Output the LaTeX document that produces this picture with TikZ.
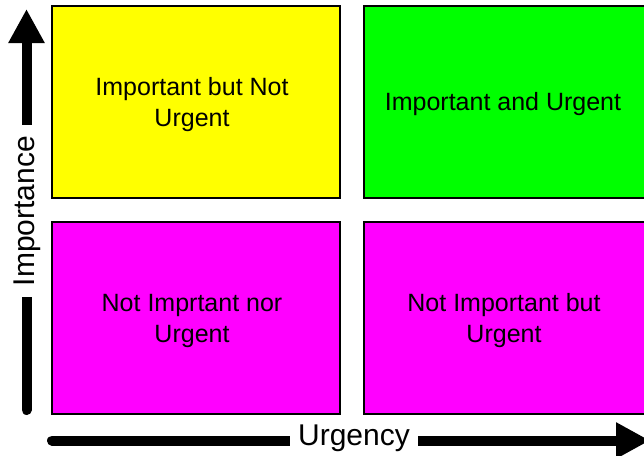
\documentclass[tikz,border=0pt]{standalone}
\usepackage{fontspec}
\setmainfont{Liberation Sans}
\usetikzlibrary{arrows.meta}
\definecolor{quadyellow}{RGB}{255,255,0}
\definecolor{quadgreen}{RGB}{0,255,0}
\definecolor{quadmagenta}{RGB}{255,0,255}

\begin{document}
\begin{tikzpicture}[x=1pt,y=-1pt,
  quad/.style={draw,line width=2pt,minimum width=288pt,minimum height=192pt,inner sep=0pt},
  qtext/.style={align=center,inner sep=0pt,font=\fontsize{25}{31}\selectfont},
  axis/.style={line width=10pt,line cap=round,-{Triangle[length=34pt,width=34pt]}},
  axislabel/.style={fill=white,inner xsep=8pt,inner ysep=0pt,font=\fontsize{30}{36}\selectfont}]
\useasboundingbox (0,0) rectangle (644,455);
\clip (0,0) rectangle (644,455);
\node [quad,fill=quadyellow] (ib) at (196,102) {};
\node [quad,fill=quadgreen] (iu) at (508,102) {};
\node [quad,fill=quadmagenta] (nn) at (196,318) {};
\node [quad,fill=quadmagenta] (nu) at (508,318) {};
\node [qtext] (ibt) at (192,105) {Important but Not\\Urgent};
\node [qtext] (iut) at (503,104) {Important and Urgent};
\node [qtext] (nnt) at (192,321) {Not Imprtant nor\\Urgent};
\node [qtext] (nut) at (504,321) {Not Important but\\Urgent};
\coordinate (vbot) at (26.5,410);
\coordinate (vtop) at (26.5,9);
\coordinate (hleft) at (52,440.5);
\coordinate (hright) at (650,440.5);
\draw [axis] (vbot) -- (vtop);
\draw [axis] (hleft) -- (hright);
\node [axislabel,rotate=90,inner xsep=11pt] (imp) at (27,211) {Importance};
\node [axislabel] (urg) at (354,438.5) {Urgency};
\end{tikzpicture}
\end{document}
